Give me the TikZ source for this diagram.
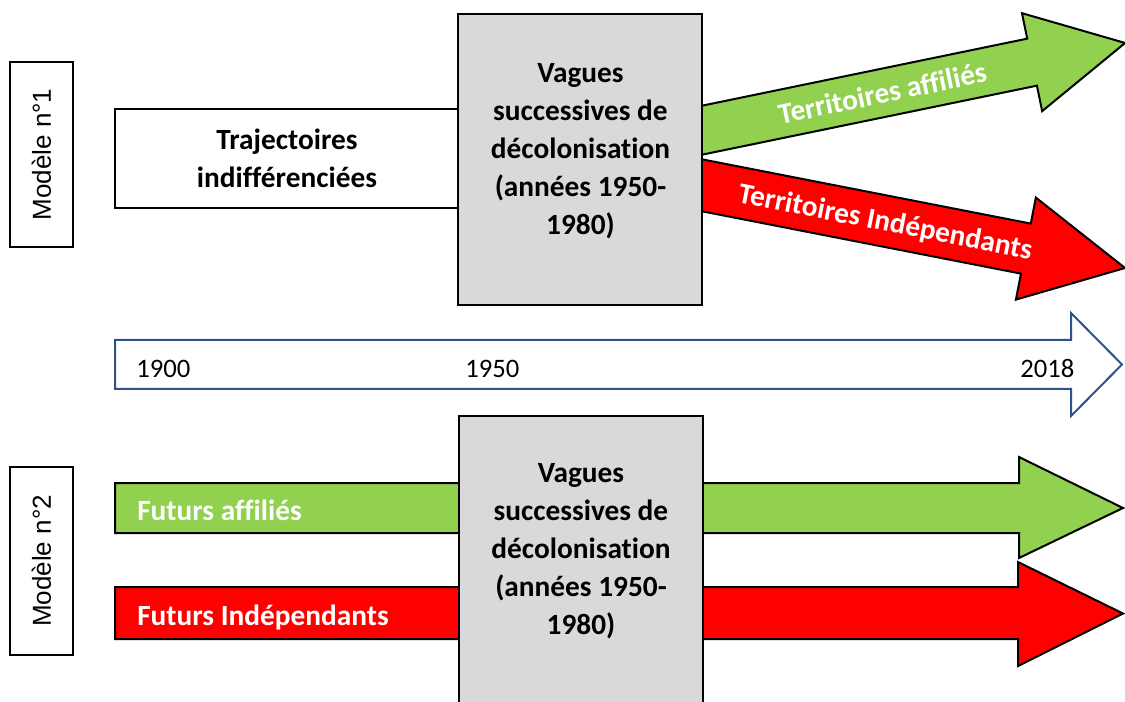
\documentclass[tikz,border=0pt]{standalone}
\usepackage{fontspec}
\setmainfont{Carlito}[Ligatures=NoCommon]
\newfontfamily\arialfont{Liberation Sans}
\usetikzlibrary{positioning}
\definecolor{vert}{RGB}{146,208,80}
\definecolor{rouge}{RGB}{255,0,0}
\definecolor{gris}{RGB}{217,217,217}
\definecolor{bleu}{RGB}{47,82,143}
\tikzset{
  boite/.style={draw=black, line width=1.5pt, inner sep=0pt},
  fleche/.style={draw=black, line width=1.5pt, line join=miter},
  gras/.style={font=\fontsize{22}{28.5}\selectfont\bfseries, align=center, inner sep=0pt},
  blanc/.style={font=\fontsize{22}{26}\selectfont\bfseries, text=white, inner sep=0pt},
  annee/.style={font=\fontsize{20}{24}\selectfont, anchor=base west, inner sep=0pt},
  modele/.style={boite, rotate=90, font=\arialfont\fontsize{19.5}{24}\selectfont, minimum height=47.25pt}
}

\begin{document}
\begin{tikzpicture}[x=0.75pt, y=-0.75pt]
  \useasboundingbox (0,0) rectangle (1125,702);
  % Modele n°1
  \node[modele, minimum width=138.75pt] (mod1) at (41.5,154.5) {Modèle n°1};
  \node[boite, fill=white, minimum width=258pt, minimum height=74.6pt] (traj) at (287,158.75) {};
  \node[gras] (txttraj) at (287,158) {Trajectoires\\indifférenciées};
  \begin{scope}[shift={(703,130)}, rotate=11.65]
    \draw[fleche, fill=vert] (-15,-24) -- (336,-24) -- (336,-50) -- (431,0) -- (336,50) -- (336,24) -- (-15,24) -- cycle;
    \node[blanc, transform shape] (txtaff) at (183,0) {Territoires affiliés};
  \end{scope}
  \begin{scope}[shift={(703,185.5)}, rotate=-11.06]
    \draw[fleche, fill=rouge] (-15,-25.5) -- (329,-25.5) -- (329,-52) -- (430,0) -- (329,52) -- (329,25.5) -- (-15,25.5) -- cycle;
    \node[blanc, transform shape] (txtind) at (186,2) {Territoires Indépendants};
  \end{scope}
  \node[boite, fill=gris, minimum width=183pt, minimum height=218.25pt] (vag1) at (580,159.5) {};
  \node[gras] (txtvag1) at (580.5,151) {Vagues\\successives de\\décolonisation\\(années 1950-\\1980)};
  %
  % frise 1900 - 2018
  \draw[bleu, line width=1.5pt, line join=miter] (115,340) -- (1071,340) -- (1071,313) -- (1122,364.5) -- (1071,416) -- (1071,389) -- (115,389) -- cycle;
  \node[annee] (an1900) at (136,378) {1900};
  \node[annee] (an1950) at (465,378) {1950};
  \node[annee] (an2018) at (1020,378) {2018};
  %
  % Modele n°2
  \node[modele, minimum width=141pt] (mod2) at (41.5,561) {Modèle n°2};
  \draw[fleche, fill=vert] (115,483) -- (1019,483) -- (1019,457) -- (1123,508) -- (1019,558) -- (1019,533) -- (115,533) -- cycle;
  \draw[fleche, fill=rouge] (115,587) -- (1018,587) -- (1018,562) -- (1123,613.5) -- (1018,666) -- (1018,639) -- (115,639) -- cycle;
  \node[blanc, anchor=base west] (txtfaff) at (137,520) {Futurs affiliés};
  \node[blanc, anchor=base west] (txtfind) at (137,625) {Futurs Indépendants};
  \node[boite, fill=gris, minimum width=183pt, minimum height=228pt] (vag2) at (581,568) {};
  \node[gras] (txtvag2) at (581,551) {Vagues\\successives de\\décolonisation\\(années 1950-\\1980)};
\end{tikzpicture}
\end{document}
